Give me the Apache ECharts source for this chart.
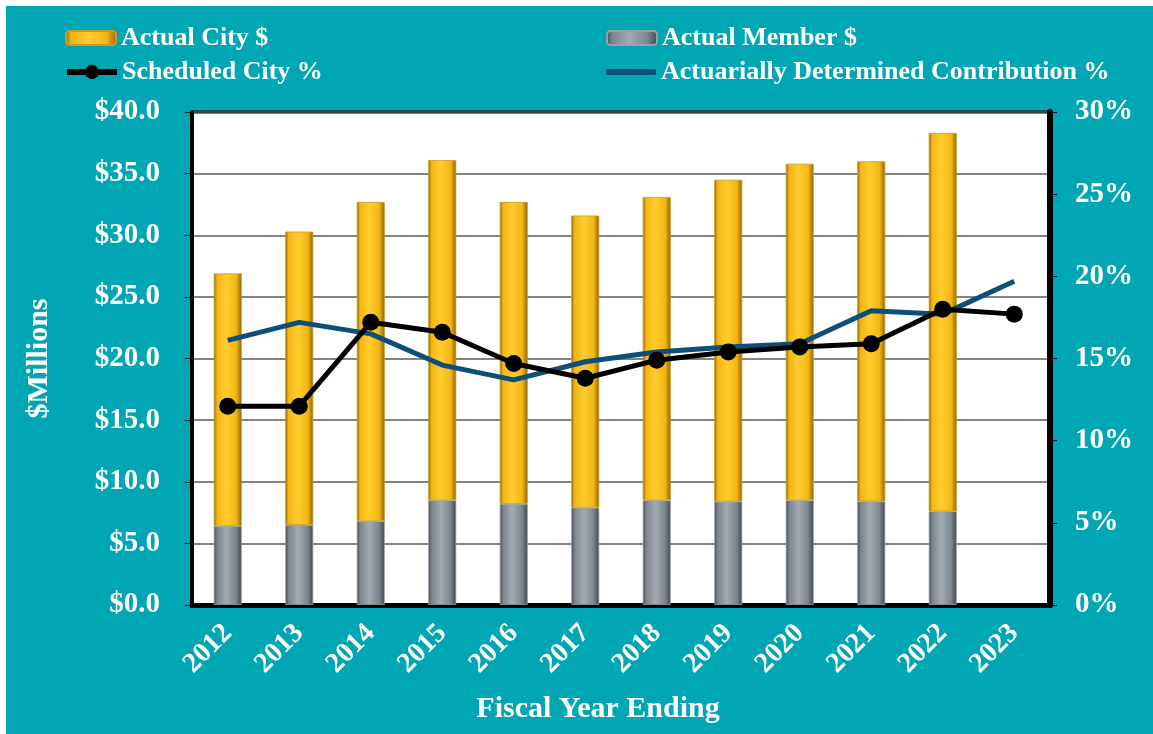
<!DOCTYPE html>
<html>
<head>
<meta charset="utf-8">
<script src="https://cdn.jsdelivr.net/npm/echarts@6/dist/echarts.min.js"></script>
<style>
  html, body { margin: 0; padding: 0; background: #fff; overflow: hidden; }
  #chart { position: absolute; left: 6px; top: 6px; width: 1147px; height: 728px; }
</style>
</head>
<body>
<div id="chart"></div>
<script>
// values
const years = ['2012', '2013', '2014', '2015', '2016', '2017', '2018', '2019', '2020', '2021', '2022', '2023'];
const actualMember = [6.4, 6.5, 6.8, 8.5, 8.2, 7.9, 8.5, 8.4, 8.5, 8.4, 7.6, null];
const actualCity = [20.5, 23.8, 25.9, 27.6, 24.5, 23.7, 24.6, 26.1, 27.3, 27.6, 30.7, null];
const scheduledCityPct = [12.1, 12.1, 17.2, 16.6, 14.7, 13.8, 14.9, 15.4, 15.7, 15.9, 18.0, 17.7];
const adcPct = [16.1, 17.2, 16.5, 14.6, 13.7, 14.8, 15.4, 15.7, 15.9, 17.9, 17.7, 19.7];

const FONT = '"Liberation Serif", "DejaVu Serif", serif';
const TEAL = '#00A6B4';

// bevel-like horizontal gradient
function bevel(dark, mid, light) {
  return new echarts.graphic.LinearGradient(0, 0, 1, 0, [
    { offset: 0, color: dark },
    { offset: 0.12, color: mid },
    { offset: 0.45, color: light },
    { offset: 0.8, color: mid },
    { offset: 1, color: dark }
  ]);
}

const chart = echarts.init(document.getElementById('chart'), undefined, { renderer: 'canvas' });

const legendText = { color: '#fff', fontFamily: FONT, fontWeight: 'bold', fontSize: 26 };
const nameText = { color: '#fff', fontFamily: FONT, fontWeight: 'bold', fontSize: 30 };
const tickText = { color: '#fff', fontFamily: FONT, fontWeight: 'bold', fontSize: 29 };

function legendAt(left, top, name, extra) {
  return Object.assign({
    left, top, itemWidth: 50, itemHeight: 14, itemGap: 0,
    textStyle: legendText,
    data: [name]
  }, extra || {});
}

chart.setOption({
  backgroundColor: TEAL,
  animation: false,
  legend: [
    legendAt(54, 14, 'Actual City $'),
    legendAt(595, 14, 'Actual Member $'),
    legendAt(53, 48, 'Scheduled City %', {
      itemHeight: 18,
      lineStyle: { width: 6 }
    }),
    legendAt(595, 48, 'Actuarially Determined Contribution %', {
      itemHeight: 6,
      data: [{ name: 'Actuarially Determined Contribution %', icon: 'roundRect' }]
    })
  ],
  grid: {
    left: 186, right: 103, top: 106, bottom: 129,
    show: true, backgroundColor: '#fff', borderColor: '#000', borderWidth: 3
  },
  xAxis: {
    type: 'category',
    data: years,
    name: 'Fiscal Year Ending',
    nameLocation: 'middle',
    nameGap: 89,
    nameTextStyle: Object.assign({ padding: [0, 46, 0, 0] }, nameText),
    axisLine: { lineStyle: { color: '#000', width: 5 } },
    axisTick: { show: false },
    axisLabel: Object.assign({ rotate: 45, margin: 24 }, tickText, { fontSize: 28 })
  },
  yAxis: [
    {
      type: 'value', min: 0, max: 40, interval: 5,
      name: '$Millions',
      nameLocation: 'middle',
      nameGap: 138,
      nameTextStyle: nameText,
      axisLine: { show: true, lineStyle: { color: '#000', width: 4 } },
      axisTick: { show: true, length: 7, lineStyle: { color: '#000', width: 1 } },
      axisLabel: Object.assign({
        margin: 32,
        formatter: v => '$' + v.toFixed(1)
      }, tickText),
      splitLine: { lineStyle: { color: '#5a5a5a', width: 1.5 } }
    },
    {
      type: 'value', min: 0, max: 30, interval: 5,
      position: 'right',
      axisLine: { show: true, lineStyle: { color: '#000', width: 6 } },
      axisTick: { show: true, length: 7, lineStyle: { color: '#000', width: 1 } },
      axisLabel: Object.assign({
        margin: 25,
        formatter: '{value}%'
      }, tickText),
      splitLine: { show: false }
    }
  ],
  series: [
    {
      name: 'Actual Member $',
      type: 'bar',
      stack: 'total',
      barWidth: 28,
      data: actualMember,
      itemStyle: {
        color: bevel('#3E444B', '#7C848D', '#A3AAB2'),
        borderColor: '#9AA0A6', borderWidth: 0.8
      }
    },
    {
      name: 'Actual City $',
      type: 'bar',
      stack: 'total',
      barWidth: 28,
      data: actualCity,
      itemStyle: {
        color: bevel('#8C6406', '#F4B614', '#FFCC2E'),
        borderColor: '#C89A2A', borderWidth: 0.8
      }
    },
    {
      name: 'Actuarially Determined Contribution %',
      type: 'line',
      yAxisIndex: 1,
      data: adcPct,
      symbol: 'none',
      lineStyle: { color: '#0B4F7A', width: 5 },
      itemStyle: { color: '#0B4F7A' },
      z: 3
    },
    {
      name: 'Scheduled City %',
      type: 'line',
      yAxisIndex: 1,
      data: scheduledCityPct,
      symbol: 'circle',
      symbolSize: 17,
      lineStyle: { color: '#000', width: 5 },
      itemStyle: { color: '#000' },
      z: 4
    }
  ]
});

window.addEventListener('resize', () => {
  try { chart.resize(); } catch (_) { }
});
</script>
</body>
</html>
